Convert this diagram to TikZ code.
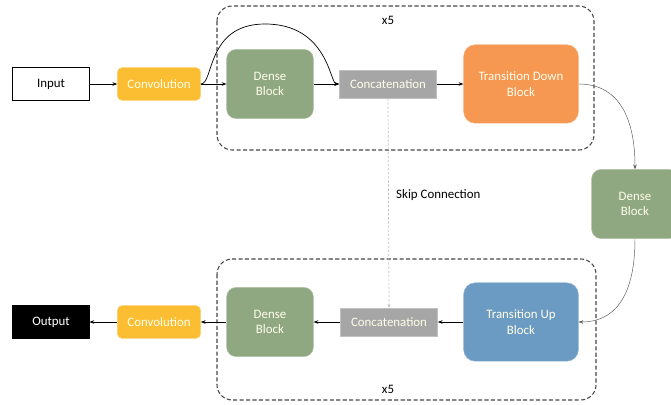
\documentclass[tikz,border=0pt]{standalone}
\usepackage{fontspec}
\setmainfont{Carlito}
\usetikzlibrary{arrows.meta}

\definecolor{convyellow}{RGB}{251,190,50}
\definecolor{densegreen}{RGB}{143,168,129}
\definecolor{downorange}{RGB}{246,151,82}
\definecolor{upblue}{RGB}{107,155,195}
\definecolor{concatgray}{RGB}{166,166,166}
\definecolor{framegray}{RGB}{70,70,70}

\tikzset{
  block/.style={align=center, font=\fontsize{11}{13}\selectfont, text=white!92!yellow, inner sep=0pt},
  convbox/.style={block, fill=convyellow, draw=convyellow!70!white, rounded corners=4pt, minimum width=71pt, minimum height=28pt},
  densebox/.style={block, fill=densegreen, draw=densegreen!70!white, rounded corners=8pt, minimum width=74pt, minimum height=59pt},
  transbox/.style={block, rounded corners=10pt, minimum width=98pt, minimum height=67pt},
  concatbox/.style={block, fill=concatgray, draw=concatgray!70!white, minimum width=83pt, minimum height=24pt},
  iobox/.style={block, draw=black, thick, minimum width=65pt, minimum height=28pt},
  frame/.style={draw=framegray, line width=0.9pt, dash pattern=on 3.5pt off 2pt, rounded corners=13pt},
  link/.style={-{Stealth[length=4pt,width=3pt]}, line width=0.5pt},
  curvelink/.style={-{Stealth[length=4pt,width=3pt]}, line width=0.4pt, draw=black!65}
}

\begin{document}
\begin{tikzpicture}[x=0.03cm, y=-0.03cm]
  \useasboundingbox (0,0) rectangle (671,405);

  % repeat frames
  \draw[frame] (217,6) rectangle (594,150);
  \draw[frame] (217,259) rectangle (596,400);
  \node[font=\fontsize{11}{13}\selectfont] (xtop) at (388,20) {x5};
  \node[font=\fontsize{11}{13}\selectfont] (xbot) at (388,389) {x5};

  % down path
  \node[iobox, text=black] (input) at (51,84) {Input};
  \node[convbox] (conv1) at (159,84) {Convolution};
  \node[densebox] (dense1) at (270,84) {Dense\\Block};
  \node[concatbox] (concat1) at (388,84) {Concatenation};
  \node[transbox, fill=downorange, draw=downorange!70!white] (tdown) at (521,84) {Transition Down\\Block};

  % bottleneck
  \node[densebox] (dense2) at (635,204) {Dense\\Block};

  % up path
  \node[transbox, fill=upblue, draw=upblue!70!white] (tup) at (521,322) {Transition Up\\Block};
  \node[concatbox] (concat2) at (389,322) {Concatenation};
  \node[densebox] (dense3) at (270,322) {Dense\\Block};
  \node[convbox] (conv2) at (159,322) {Convolution};
  \node[iobox, fill=black, text=white] (output) at (51,322) {Output};

  \draw[link] (input) -- (conv1);
  \draw[link] (conv1) -- (dense1);
  \draw[line width=0.6pt, -{Stealth[length=4pt,width=3pt]}] (conv1.east) .. controls (214,84) and (206,24) .. (265,24)
    .. controls (328,24) and (330,84) .. (concat1.west);
  \draw[link] (dense1) -- (concat1);
  \draw[link] (concat1) -- (tdown);
  \draw[curvelink] (tdown.east) .. controls (620,84) and (635,120) .. (dense2.north);
  \draw[curvelink] (dense2.south) .. controls (635,300) and (612,322) .. (tup.east);
  \draw[link] (tup) -- (concat2);
  \draw[link] (concat2) -- (dense3);
  \draw[link] (dense3) -- (conv2);
  \draw[link] (conv2) -- (output);

  % skip connection
  \draw[draw=black!25, line width=0.6pt, dash pattern=on 2pt off 1.5pt, -{Stealth[length=3pt,width=2.5pt]}]
    (concat1.south) -- node[pos=0.46, right=3pt, text=black, font=\fontsize{11}{13}\selectfont] (skiplabel) {Skip Connection} (concat2.north);
\end{tikzpicture}
\end{document}
